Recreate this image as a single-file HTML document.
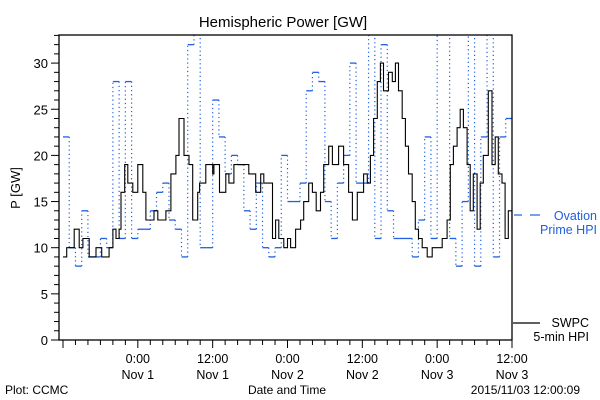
<!DOCTYPE html>
<html><head><meta charset="utf-8"><style>
html,body{margin:0;padding:0;background:#fff;}
svg{display:block;font-family:"Liberation Sans",sans-serif;}
</style></head><body>
<svg id="chart" width="600" height="400" viewBox="0 0 600 400">
<text x="283" y="27" font-size="15" text-anchor="middle">Hemispheric Power [GW]</text>
<text transform="translate(20,188) rotate(-90)" font-size="13" text-anchor="middle">P [GW]</text>
<text x="287" y="394" font-size="12" text-anchor="middle">Date and Time</text>
<text x="5" y="394" font-size="12">Plot: CCMC</text>
<text x="580" y="394" font-size="12" text-anchor="end">2015/11/03 12:00:09</text>
<g id="plot"></g>
<g>
<line x1="514" y1="215" x2="522" y2="215" stroke="#1f5fe0" stroke-width="1.2"/>
<line x1="530" y1="215" x2="540" y2="215" stroke="#1f5fe0" stroke-width="1.2"/>
<text x="597" y="220" font-size="12.5" fill="#1f5fe0" text-anchor="end">Ovation</text>
<text x="597" y="234" font-size="12.5" fill="#1f5fe0" text-anchor="end">Prime HPI</text>
</g>
<g>
<line x1="513" y1="323" x2="540" y2="323" stroke="#000" stroke-width="1.2"/>
<text x="589" y="327" font-size="12.5" text-anchor="end">SWPC</text>
<text x="589" y="341" font-size="12.5" text-anchor="end">5-min HPI</text>
</g>
</svg>
<script>
// Ovation hourly values starting Oct 31 12:00 (hour index)
const ovationValues = [22,10,8,14,9,9,11,10,28,11,28,11,12,12,14,16,17,13,12,9,32,40,10,10,26,22,18,20,19,14,12,17,10,9,10,20,15,15,17,27,29,28,15,11,17,20,30,17,17,40,11,32,14,11,11,11,9,13,22,11,40,40,11,8,15,40,8,22,40,9,22,24];
// SWPC samples: hours since Oct 31 12:00 and values
const swpcHours = [0,0.6,1.8,2.6,3.2,4.2,5.3,6.2,7.4,8.0,8.5,9.0,9.3,9.9,10.4,11.2,12.0,12.8,13.3,14.1,14.6,15.2,16.5,17.3,18.1,18.6,19.4,20.2,20.8,21.6,21.9,22.9,23.5,24.0,24.2,25.1,26.1,26.6,27.4,28.5,29.8,30.9,31.7,32.2,33.0,33.6,34.1,34.6,35.4,36.0,36.5,37.3,38.1,38.6,39.4,40.0,40.6,41.3,41.8,42.6,43.2,44.2,45.0,45.8,46.4,47.2,47.7,48.2,48.8,49.3,49.8,50.4,50.9,51.4,52.2,52.8,53.3,53.8,54.4,54.9,55.4,56.0,56.5,57.0,57.6,58.4,59.2,60.0,60.8,61.6,62.1,62.6,63.2,63.7,64.2,64.8,65.3,65.8,66.4,66.9,67.4,68.2,68.8,69.3,69.8,70.4,70.9,71.4,72];
const swpcValues = [9,10,12,10,11,9,10,9,10,12,11,12,16,19,17,16,19,16,13,13,14,13,14,18,20,24,20,19,13,16,17,19,19,18,19,16,18,17,19,19,18,16,18,17,17,11,13,11,10,11,10,12,13,15,17,16,14,16,19,21,19,21,19,16,13,16,16,18,17,20,24,28,30,27,29,28,30,27,24,21,18,15,12,11,10,9,10,10,11,13,19,21,23,25,23,19,14,18,12,17,20,27,19,22,18,17,11,14,12];
const yTicks = [0,5,10,15,20,25,30];
const xTickHours = [0,12,24,36,48,60];
const xTickLabels = [["0:00","Nov 1"],["12:00","Nov 1"],["0:00","Nov 2"],["12:00","Nov 2"],["0:00","Nov 3"],["12:00","Nov 3"]];

const NS="http://www.w3.org/2000/svg";
const L=59,R=512,T=35,B=340;
const tMin=-12.64,tMax=60,vMax=(B-T)/9.23;
const xs=t=>L+(t-tMin)/(tMax-tMin)*(R-L);
const ys=v=>B-v/vMax*(B-T);
const g=document.getElementById('plot');
function mk(tag,attrs){const e=document.createElementNS(NS,tag);for(const k in attrs)e.setAttribute(k,attrs[k]);g.appendChild(e);return e;}
const defs=mk('defs',{});
const cp=document.createElementNS(NS,'clipPath');cp.setAttribute('id','clip');
const cr=document.createElementNS(NS,'rect');cr.setAttribute('x',L);cr.setAttribute('y',T);cr.setAttribute('width',R-L);cr.setAttribute('height',B-T);
cp.appendChild(cr);defs.appendChild(cp);
const og=mk('g',{'clip-path':'url(#clip)'});


for(let i=0;i<ovationValues.length;i++){
  const t0=i-12,t1=i-11;
  const seg=document.createElementNS(NS,'line');
  seg.setAttribute('x1',xs(t0));seg.setAttribute('x2',xs(t1));
  seg.setAttribute('y1',ys(ovationValues[i]));seg.setAttribute('y2',ys(ovationValues[i]));
  seg.setAttribute('stroke','#1f5fe0');seg.setAttribute('stroke-width','1.3');
  
  
  og.appendChild(seg);
  if(i<ovationValues.length-1){
    const v=document.createElementNS(NS,'line');
    v.setAttribute('x1',xs(t1));v.setAttribute('x2',xs(t1));
    v.setAttribute('y1',ys(ovationValues[i]));v.setAttribute('y2',ys(ovationValues[i+1]));
    v.setAttribute('stroke','#1f5fe0');v.setAttribute('stroke-width','1.2');v.setAttribute('stroke-dasharray','1.2,3');
    
    
    og.appendChild(v);
  }
}
// SWPC series (stepped)
let d='';
for(let i=0;i<swpcHours.length;i++){
  const x=xs(swpcHours[i]-12),y=ys(swpcValues[i]);
  if(i===0){d+='M'+x.toFixed(1)+','+y.toFixed(1);}
  else{d+='H'+x.toFixed(1)+'V'+y.toFixed(1);}
}
const sp=mk('path',{d:d,fill:'none',stroke:'#000','stroke-width':'1.1','clip-path':'url(#clip)'});


const fr=mk('rect',{x:L,y:T,width:R-L,height:B-T,fill:'none',stroke:'#000','stroke-width':'1.3'});


for(let v=0;v<=33;v++){
  const tk=mk('line',{x1:L-(v%5===0?8:5),x2:L,y1:ys(v),y2:ys(v),stroke:'#000','stroke-width':'1'});
  
  
}
yTicks.forEach(v=>{
  const tx=mk('text',{x:L-11,y:ys(v)+5,'font-size':'13','text-anchor':'end'});
  tx.textContent=v;
  
  
});
for(let t=-12;t<=60;t+=2){
  const major=(t%12===0);
  const tk=mk('line',{x1:xs(t),x2:xs(t),y1:B,y2:B+(major?8:5),stroke:'#000','stroke-width':'1'});
  
  
}
xTickHours.forEach((t,i)=>{
  [0,1].forEach(k=>{
    const tx=mk('text',{x:xs(t),y:363+k*16,'font-size':'12.5','text-anchor':'middle'});
    tx.textContent=xTickLabels[i][k];
    
    
  });
});
</script>
</body></html>
